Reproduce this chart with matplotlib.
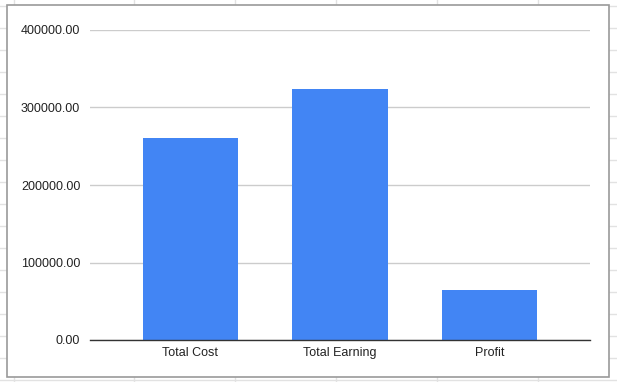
import matplotlib.pyplot as plt
from matplotlib.lines import Line2D
from matplotlib.patches import Rectangle

categories = ["Total Cost", "Total Earning", "Profit"]
values = [260500, 324000, 64000]
yticks = [0, 100000, 200000, 300000, 400000]

W, H = 617, 382
fig = plt.figure(figsize=(W / 100, H / 100), dpi=100)
plt.rcParams["font.family"] = ["Liberation Sans", "DejaVu Sans"]


def px(x, y):
    return x / W, 1 - y / H


# spreadsheet cell lines behind the chart
for x in [14, 134, 235, 336, 437, 538]:
    fig.add_artist(Line2D([x / W] * 2, [0, 1], color="#e2e2e2", lw=1, zorder=0))
for y in range(6, H, 22):
    fig.add_artist(Line2D([0, 1], [1 - y / H] * 2, color="#e2e2e2", lw=1, zorder=0))

# chart box
x0, y0 = px(7, 377)
x1, y1 = px(609, 5)
fig.add_artist(Rectangle((x0, y0), x1 - x0, y1 - y0, facecolor="white",
                         edgecolor="#9a9a9a", lw=1.2, zorder=1))

l, b = px(90, 340)
r, t = px(590, 30)
ax = fig.add_axes([l, b, r - l, t - b], zorder=2)
ax.patch.set_alpha(0)

pos = list(range(len(categories)))
ax.bar(pos, values, width=0.64, color="#4285f4", zorder=3)

ax.set_xlim(-0.672, 2.672)
ax.set_ylim(0, 400000)
ax.set_yticks(yticks)
ax.set_yticklabels([f"{v:.2f}" for v in yticks], fontsize=9, color="#222222")
ax.set_xticks(pos)
ax.set_xticklabels(categories, fontsize=9, color="#222222")
ax.tick_params(axis="both", length=0)
ax.tick_params(axis="y", pad=7)
ax.tick_params(axis="x", pad=5)
ax.grid(axis="y", color="#cccccc", lw=1, zorder=0)
for s in ["top", "right", "left"]:
    ax.spines[s].set_visible(False)
ax.spines["bottom"].set_color("#333333")
ax.spines["bottom"].set_linewidth(1)
ax.spines["bottom"].set_zorder(4)

fig.savefig("out.png", dpi=100)
